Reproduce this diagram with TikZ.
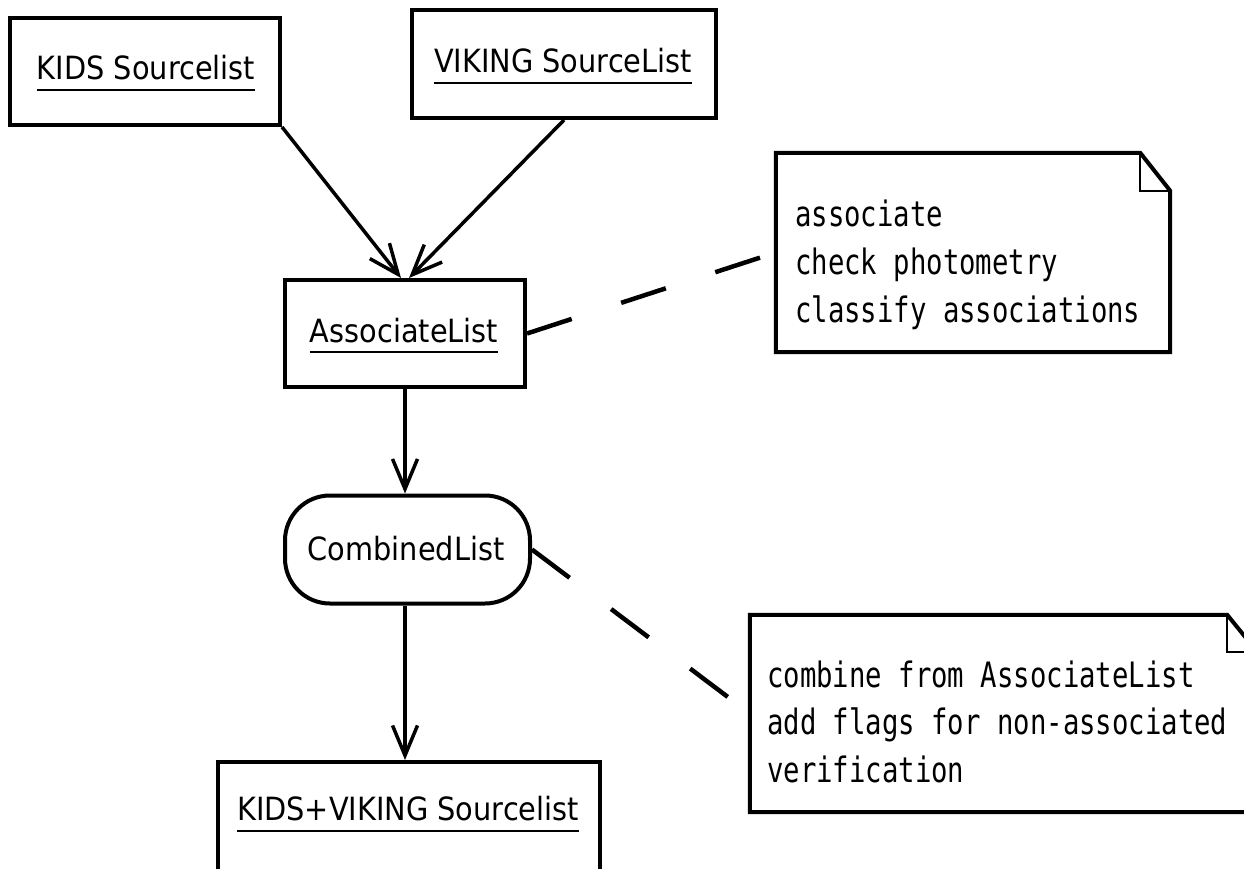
\documentclass[tikz,border=0pt]{standalone}
\usepackage{fontspec}
\newfontfamily\sansf[FakeStretch=0.9]{DejaVu Sans}
\newfontfamily\monof[FakeStretch=0.78]{DejaVu Sans Mono}
\usetikzlibrary{arrows.meta}
\begin{document}
\begin{tikzpicture}[x=1pt,y=-1pt,
  umlbox/.style={draw, line width=4pt, inner sep=0pt, rectangle},
  lbl/.style={font=\sansf\fontsize{32}{38}\selectfont, inner sep=0pt, anchor=base},
  mono/.style={font=\monof\fontsize{35}{40}\selectfont, inner sep=0pt, anchor=base west},
  conn/.style={line width=3.5pt, -{Straight Barb[length=30pt,width=25pt]}},
  notelink/.style={line width=4.5pt, dash pattern=on 47pt off 52pt},
  noteframe/.style={line width=4pt, line join=miter},
  ulstyle/.style={line width=2.5pt}]
\useasboundingbox (0,0) rectangle (1244,869);
\fill[white] (0,0) rectangle (1244,869);

% boxes
\node[umlbox, minimum width=270pt, minimum height=107pt] (kids) at (145,71.5) {};
\node[lbl] (kidsT) at (146,80) {KIDS Sourcelist};
\draw[ulstyle] ([yshift=-10pt]kidsT.base west) -- ([yshift=-10pt]kidsT.base east);

\node[umlbox, minimum width=304pt, minimum height=108pt] (viking) at (564,64) {};
\node[lbl] (vikingT) at (563,73) {VIKING SourceList};
\draw[ulstyle] ([yshift=-10pt]vikingT.base west) -- ([yshift=-10pt]vikingT.base east);

\node[umlbox, minimum width=240pt, minimum height=107pt] (assoc) at (405,333.5) {};
\node[lbl] (assocT) at (404,342) {AssociateList};
\draw[ulstyle] ([yshift=-10pt]assocT.base west) -- ([yshift=-10pt]assocT.base east);

\node[draw, line width=4pt, rounded corners=45pt, minimum width=245pt, minimum height=108pt, inner sep=0pt] (comb) at (407.5,549.5) {};
\node[lbl] (combT) at (406,560) {CombinedList};

\node[umlbox, minimum width=382pt, minimum height=110pt] (kv) at (409,817) {};
\node[lbl] (kvT) at (408,820) {KIDS+VIKING Sourcelist};
\draw[ulstyle] ([yshift=-11pt]kvT.base west) -- ([yshift=-11pt]kvT.base east);

% notes
\node[inner sep=0pt, minimum width=394pt, minimum height=199pt] (note1) at (973,252.5) {};
\draw[noteframe] (note1.north west) -- ([xshift=-30pt]note1.north east) -- ([yshift=-38pt]note1.north east) -- (note1.south east) -- (note1.south west) -- cycle;
\draw[line width=2pt] ([xshift=-30pt]note1.north east) |- ([yshift=-38pt]note1.north east);
\node[mono] (n1a) at (795,226) {associate};
\node[mono] (n1b) at (795,274) {check photometry};
\node[mono] (n1c) at (795,322) {classify associations};

\node[inner sep=0pt, minimum width=507pt, minimum height=197pt] (note2) at (1003.5,713.5) {};
\draw[noteframe] (note2.north west) -- ([xshift=-30pt]note2.north east) -- ([yshift=-37pt]note2.north east) -- (note2.south east) -- (note2.south west) -- cycle;
\draw[line width=2pt] ([xshift=-30pt]note2.north east) |- ([yshift=-37pt]note2.north east);
\node[mono] (n2a) at (767,687) {combine from AssociateList};
\node[mono] (n2b) at (767,734) {add flags for non-associated};
\node[mono] (n2c) at (767,782) {verification};

% connectors
\draw[conn] (kids.south east) -- ([xshift=-4pt]assoc.north);
\draw[conn] (viking.south) -- ([xshift=4pt]assoc.north);
\draw[conn] (assoc.south) -- (assoc.south |- comb.north);
\draw[conn] (assoc.south |- comb.south) -- (assoc.south |- kv.north);
\draw[notelink] (assoc.east) -- (note1.west);
\draw[notelink] (comb.east) -- (note2.west);
\end{tikzpicture}
\end{document}
